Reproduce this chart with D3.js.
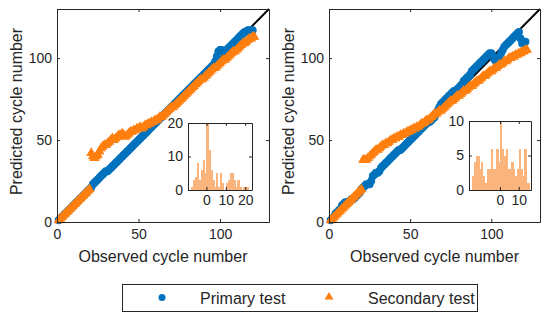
<!DOCTYPE html>
<html><head><meta charset="utf-8">
<script src="https://cdn.jsdelivr.net/npm/d3@7"></script>
<style>
body{margin:0;background:#fff}
svg{display:block}
text{font-family:"Liberation Sans",Arial,sans-serif;fill:#262626}
</style>
</head><body>
<svg id="c" width="550" height="321"></svg>
<script>
// ---------- data ----------
const axisTicks = [0, 50, 100];
const axisDomain = [0, 130];
const diagLine = [0, 130];
const seriesNames = ["Primary test", "Secondary test"];

// left panel: predicted cycle for observed cycle 1..N
const leftPrimary = [1,2,3,4,5,6,7,8,9,10,11,12,13,14,15,16,17,18,19,20,
 21,23,24,25,26,27,28,29,30,31,31,32,33,34,35,36,37,38,39,40,
 41,42,43,44,45,46,47,48,49,50,51,52,53,54,55,56,57,58,59,60,
 61,62,63,64,65,66,67,68,69,70,71,72,73,74,75,76,77,78,79,80,
 81,82,83,84,85,86,87,88,89,90,91,92,93,94,95,96,98,101,104,105,
 105,104,104,105,106,107,108,109,110,111,112,113,114,115,116,116,117,117,117,117];
const leftSecondary = [1,2,3,4,5,6,7,8,9,10,11,12,13,14,15,16,17,18,19,20,
 42,40,39,40,41,43,45,46,47,47,48,49,50,51,50,51,52,53,53,54,
 53,52,53,54,55,55,56,56,57,57,58,57,58,59,59,60,60,61,61,62,
 62,63,64,64,65,66,67,68,69,70,70,71,72,73,74,75,76,77,78,79,
 80,81,82,83,84,85,86,87,87,88,89,90,91,92,93,94,94,95,96,97,
 98,99,99,100,101,102,103,104,104,105,106,107,108,109,109,110,111,112,112,113,113];

// right panel
const rightPrimary = [1,2,3,5,6,7,8,10,11,12,12,12,13,14,14,15,16,17,18,20,
 21,22,23,23,23,25,28,29,30,30,31,33,34,35,36,37,38,39,40,41,
 42,43,44,44,45,46,47,48,49,50,51,52,53,54,55,56,57,58,59,60,
 61,61,62,63,64,66,68,70,72,73,74,75,76,77,78,79,80,80,81,82,
 83,84,86,87,88,89,90,92,93,94,95,96,97,98,99,100,101,102,103,103,
 101,99,98,99,101,103,105,107,108,109,110,111,112,113,114,115,116,112,109,109,110];
const rightSecondary = [1,2,3,4,5,6,7,8,9,10,11,12,13,14,15,16,17,18,19,20,
 38,38,38,39,40,41,42,43,44,44,45,46,47,47,48,48,49,50,50,51,
 51,52,52,53,53,54,54,55,55,56,56,57,57,58,58,59,60,60,61,62,
 62,63,64,65,66,66,67,68,68,69,70,71,72,73,74,74,75,76,77,77,
 78,79,80,80,81,82,83,83,84,85,86,86,87,88,89,89,90,91,92,92,
 93,94,94,95,96,96,97,98,98,99,100,100,101,101,102,102,103,103,104,104,105,105];

// inset histograms (bin width 1)
const leftHistStart = -8;
const leftHistCounts = [1,3,4,8,3,6,9,5,20,12,6,3,1,5,1,5,2,0,2,3,5,5,3,1,3,1,0,1,1,1];
const leftHistTicksX = [0, 10, 20];
const leftHistTicksY = [0, 10, 20];
const leftHistDomainX = [-9.5, 23.5];
const leftHistDomainY = [0, 20];

const rightHistStart = -15;
const rightHistCounts = [2,4,5,5,3,4,2,1,3,3,6,3,3,6,4,10,6,5,6,3,3,4,3,2,3,6,3,2,6,1,1];
const rightHistTicksX = [0, 10];
const rightHistTicksY = [0, 5, 10];
const rightHistDomainX = [-16.5, 16.5];
const rightHistDomainY = [0, 10];

// ---------- styles ----------
const BLUE = "#0072BD", ORANGE = "#FF7F0E", HIST = "#FBB57C", AX = "#262626";

const svg = d3.select("#c");

function axes(g, x, y, xt, yt, fs, padX) {
  const yb = y.range()[0], yt0 = y.range()[1], xl = x.range()[0], xr = x.range()[1];
  const st = sel => { sel.attr("font-size", fs).attr("font-family", '"Liberation Sans",Arial,sans-serif');
    sel.selectAll("path,line").attr("stroke", AX).attr("stroke-width", 1);
    sel.selectAll("text").attr("fill", AX); };
  g.append("g").attr("transform", `translate(0,${yb})`)
    .call(d3.axisBottom(x).tickValues(xt).tickSizeInner(-3).tickSizeOuter(0).tickPadding(padX)).call(st);
  g.append("g").attr("transform", `translate(0,${yt0})`)
    .call(d3.axisTop(x).tickValues(xt).tickSizeInner(-3).tickSizeOuter(0).tickFormat("")).call(st);
  g.append("g").attr("transform", `translate(${xl},0)`)
    .call(d3.axisLeft(y).tickValues(yt).tickSizeInner(-3).tickSizeOuter(0).tickPadding(5)).call(st);
  g.append("g").attr("transform", `translate(${xr},0)`)
    .call(d3.axisRight(y).tickValues(yt).tickSizeInner(-3).tickSizeOuter(0).tickFormat("")).call(st);
}

function panel(x0, x1, primary, secondary, hist, ylabX) {
  const g = svg.append("g");
  const x = d3.scaleLinear().domain(axisDomain).range([x0, x1]);
  const y = d3.scaleLinear().domain(axisDomain).range([222, 9]);
  g.append("line").attr("x1", x(diagLine[0])).attr("y1", y(diagLine[0]))
    .attr("x2", x(diagLine[1])).attr("y2", y(diagLine[1]))
    .attr("stroke", "#000").attr("stroke-width", 2);
  g.append("g").selectAll("circle").data(primary).join("circle")
    .attr("cx", (d, i) => x(i + 1)).attr("cy", d => y(d)).attr("r", 4).attr("fill", BLUE);
  const tri = d3.symbol().type(d3.symbolTriangle).size(44);
  g.append("g").selectAll("path").data(secondary).join("path")
    .attr("d", tri).attr("transform", (d, i) => `translate(${x(i + 1)},${y(d)})`).attr("fill", ORANGE);
  axes(g, x, y, axisTicks, axisTicks, 14, 7);
  // inset
  const hx = d3.scaleLinear().domain(hist.dx).range(hist.rx);
  const hy = d3.scaleLinear().domain(hist.dy).range(hist.ry);
  g.append("rect").attr("x", hist.rx[0]).attr("y", hist.ry[1]).attr("width", hist.rx[1] - hist.rx[0])
    .attr("height", hist.ry[0] - hist.ry[1]).attr("fill", "#fff");
  g.append("g").attr("shape-rendering", "crispEdges").selectAll("rect").data(hist.counts).join("rect")
    .attr("x", (d, i) => hx(hist.start + i)).attr("width", (d, i) => hx(hist.start + i + 1) - hx(hist.start + i) + 0.4)
    .attr("y", d => hy(d)).attr("height", d => hy(0) - hy(d)).attr("fill", HIST);
  axes(g, hx, hy, hist.tx, hist.ty, 14, 5);
  // labels
  g.append("text").attr("x", (x0 + x1) / 2).attr("y", 261.5).attr("text-anchor", "middle")
    .attr("font-size", 16).text("Observed cycle number");
  g.append("text").attr("transform", `translate(${ylabX},${y(65) - 4}) rotate(-90)`).attr("text-anchor", "middle")
    .attr("font-size", 16).text("Predicted cycle number");
}

panel(57, 269, leftPrimary, leftSecondary, {
  start: leftHistStart, counts: leftHistCounts, dx: leftHistDomainX, dy: leftHistDomainY,
  rx: [188, 252], ry: [190, 123], tx: leftHistTicksX, ty: leftHistTicksY }, 22);
panel(329, 540, rightPrimary, rightSecondary, {
  start: rightHistStart, counts: rightHistCounts, dx: rightHistDomainX, dy: rightHistDomainY,
  rx: [469, 531], ry: [190, 121], tx: rightHistTicksX, ty: rightHistTicksY }, 294);

// legend
const lg = svg.append("g");
lg.append("rect").attr("x", 122.5).attr("y", 284.5).attr("width", 355).attr("height", 27)
  .attr("fill", "#fff").attr("stroke", AX).attr("stroke-width", 1);
lg.append("circle").attr("cx", 162).attr("cy", 297.5).attr("r", 3.5).attr("fill", BLUE);
lg.append("text").attr("x", 200).attr("y", 303.5).attr("font-size", 16).text(seriesNames[0]);
lg.append("path").attr("d", d3.symbol().type(d3.symbolTriangle).size(34)).attr("transform", "translate(329,297)").attr("fill", ORANGE);
lg.append("text").attr("x", 368).attr("y", 303.5).attr("font-size", 16).text(seriesNames[1]);
</script>
</body></html>
